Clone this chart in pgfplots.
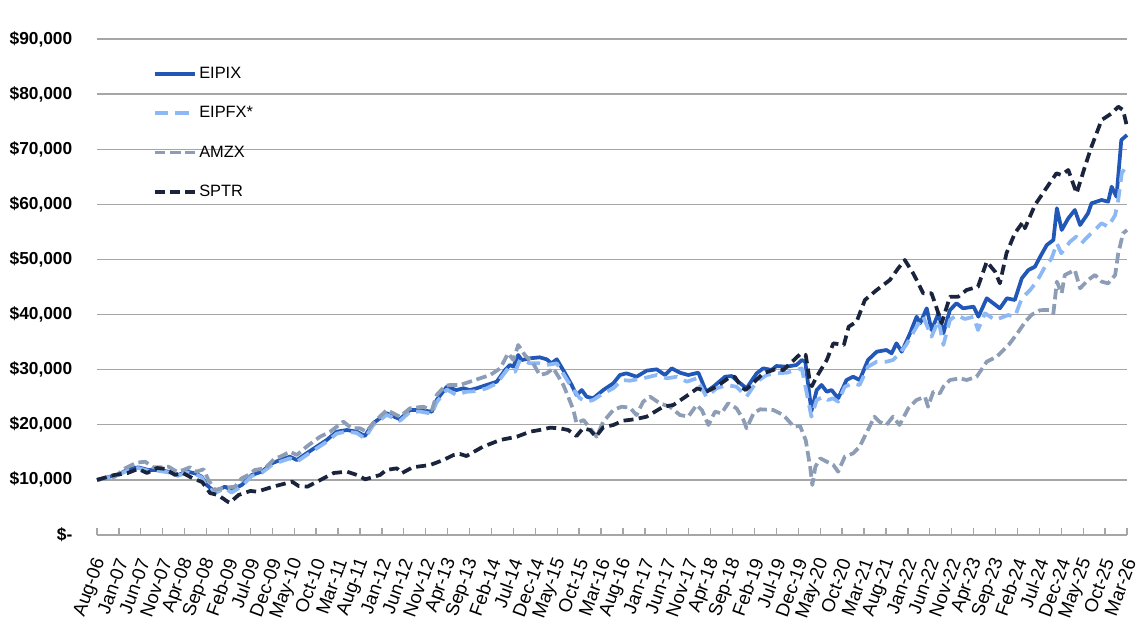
\documentclass[border=0pt]{standalone}
\usepackage{pgfplots}
\pgfplotsset{compat=1.18}
\usepackage{fontspec}
\setmainfont{Liberation Sans}
\definecolor{cEIPIX}{HTML}{2157B6}
\definecolor{cEIPFX}{HTML}{8CB9F5}
\definecolor{cAMZX}{HTML}{8C9DB5}
\definecolor{cSPTR}{HTML}{1A243D}
\definecolor{cgrid}{HTML}{A6A6A6}
\begin{document}
\begin{tikzpicture}
\useasboundingbox (-72.75pt,-65.25pt) rectangle (786.75pt,401.25pt);
\begin{axis}[
  at={(0,0)}, anchor=south west,
  scale only axis, width=772.5pt, height=372pt,
  xmin=0, xmax=235, ymin=0, ymax=90000,
  clip=false, scaled y ticks=false,
  axis x line*=bottom, axis y line*=left,
  y axis line style={draw=none},
  x axis line style={cgrid, line width=1pt},
  xtick={0,5,...,235},
  xticklabels={Aug-06,Jan-07,Jun-07,Nov-07,Apr-08,Sep-08,Feb-09,Jul-09,Dec-09,May-10,Oct-10,Mar-11,Aug-11,Jan-12,Jun-12,Nov-12,Apr-13,Sep-13,Feb-14,Jul-14,Dec-14,May-15,Oct-15,Mar-16,Aug-16,Jan-17,Jun-17,Nov-17,Apr-18,Sep-18,Feb-19,Jul-19,Dec-19,May-20,Oct-20,Mar-21,Aug-21,Jan-22,Jun-22,Nov-22,Apr-23,Sep-23,Feb-24,Jul-24,Dec-24,May-25,Oct-25,Mar-26},
  ytick={0,10000,...,90000},
  yticklabels={{\$-\hspace{4.5pt}},{\$10,000},{\$20,000},{\$30,000},{\$40,000},{\$50,000},{\$60,000},{\$70,000},{\$80,000},{\$90,000}},
  ymajorgrids, grid style={cgrid, line width=1pt},
  tick align=inside, major tick length=5pt,
  xtick style={cgrid, line width=1pt},
  ytick style={draw=none},
  xticklabel style={font=\fontsize{14}{16}\selectfont, xshift=3.75pt, yshift=-15pt, rotate=70, anchor=east},
  yticklabel style={font=\fontsize{13}{15}\selectfont\bfseries, anchor=east, xshift=-15pt},
  legend style={at={(0.054,0.949)}, anchor=north west, draw=none, fill=none,
    font=\fontsize{12.3}{14}\selectfont, row sep=15.5pt, inner sep=0pt,
    nodes={inner sep=2pt}},
  legend cell align=left,
  legend image code/.code={\draw[#1] (0pt,0pt) -- (30pt,0pt);},
  every axis plot/.append style={line width=2.8pt, line join=round},
]
\addplot[cEIPIX, solid] coordinates {
(0,10000)(3,10600)(5,11000)(7.1,11920)(9.4,12280)(11.7,11800)(14,11800)(16.3,11490)(18.5,10900)(20.5,11490)(22.4,11200)(23.9,10580)(25,9070)(26.9,7860)(29.2,8770)(30.7,8170)(33,9070)(35.3,10890)(37.6,11490)(39.9,13010)(41.8,13610)(44,14210)(45.6,13610)(47.8,14820)(50.1,16020)(52.4,17240)(54.7,18750)(57,19050)(59.3,18750)(61.1,17960)(63,20270)(66.1,22080)(69.1,21000)(71.4,22680)(73.7,22680)(76.4,22370)(77.5,24500)(79.8,26900)(82,26300)(83.6,26620)(85.1,26300)(86.6,26620)(88.9,27220)(91.2,27820)(93.1,29940)(94.2,30850)(95,30540)(96.1,32660)(96.9,31750)(98.8,32060)(101,32240)(102.6,31880)(103.7,31150)(104.9,31880)(106.8,29340)(108.3,27220)(109.4,25400)(110.6,26300)(111.7,25100)(113.2,24800)(115.5,26300)(117.8,27520)(119.3,29030)(120.8,29340)(123.1,28720)(125.4,29820)(127.7,30060)(129.6,29030)(131.1,30240)(133,29450)(134.9,29030)(137.2,29450)(139,26000)(140.6,26900)(143.3,28720)(144.8,28850)(146.3,27820)(148.2,26620)(150.5,29340)(152,30240)(153.9,29940)(155,30660)(157.3,30540)(159.6,30850)(160.8,31750)(161.6,31450)(163,22500)(164.2,26300)(165.3,27220)(166.5,26000)(167.6,26300)(169.1,24800)(171,28120)(172.5,28720)(174,28120)(175.9,31750)(177.9,33260)(180.1,33570)(181.3,32970)(182.4,34780)(183.6,33260)(185.5,36600)(187,39610)(187.8,38410)(189.3,41130)(190.4,37200)(192,40230)(193.1,36600)(194.6,40830)(196.1,42040)(197.6,41130)(200,41430)(201.1,39610)(203,42950)(206,41130)(207.6,42950)(209.4,42640)(211,46580)(212.5,48080)(214,48690)(215.2,50500)(216.7,52620)(218.2,53530)(219,59280)(220.1,55340)(221.6,57460)(223.1,58970)(224.3,56250)(226.1,58370)(226.9,60190)(229.2,60790)(230.7,60480)(231.5,63200)(232.6,61380)(233.7,71670)(235,72580)
};
\addlegendentry{EIPIX}
\addplot[cEIPFX, dash pattern=on 10pt off 5.5pt] coordinates {
(0,10000)(5,10900)(7.1,11800)(9.4,12150)(11.7,11650)(14,11650)(16.3,11350)(18.5,10750)(20.5,11350)(22.4,11050)(23.9,10450)(25,8800)(26.9,7600)(29.2,8500)(30.7,7700)(33,8850)(35.3,10700)(37.6,11300)(39.9,12700)(41.8,13300)(44,13900)(45.6,13300)(47.8,14500)(50.1,15700)(52.4,16900)(54.7,18400)(57,18800)(59.3,18500)(61.1,17500)(63,19950)(66.1,21800)(69.1,20700)(71.4,22350)(73.7,22400)(76.4,22000)(77.5,24100)(79.8,26400)(82,25400)(84.3,26000)(86.6,26100)(88.9,26620)(91.2,27520)(93.8,30240)(95.4,29630)(96.5,31750)(98.8,31150)(101,31150)(102.6,30850)(104.9,31150)(106.8,28720)(108.7,26300)(110.2,24800)(111.7,24190)(113.2,24500)(115.5,25700)(117.8,26620)(119.7,28120)(121.6,28000)(124.6,28430)(127.7,29030)(130,28430)(132.3,28720)(134.6,27820)(136.8,28430)(139,25100)(141.4,26620)(143.7,27220)(145.9,26900)(148.2,25100)(150.5,27820)(152.8,29030)(155,29340)(157.3,29450)(159.6,29940)(160.8,30240)(163,21470)(164.2,24500)(165.7,25100)(166.8,24500)(167.9,24800)(169.1,24190)(170.6,26900)(172.5,27520)(174,27220)(175.9,30540)(177.9,31450)(180.1,31450)(181.6,31750)(183.1,32970)(184.6,34480)(187,37800)(188.5,39610)(190.4,35990)(192,39010)(193.1,34480)(194.6,39010)(196.1,39920)(198,39200)(200,39600)(201,37200)(202.6,40230)(204.9,39000)(207.9,39920)(209.4,39610)(211,42950)(212.9,44460)(214.4,45970)(216.3,48690)(217.8,50200)(219,52930)(220,51110)(222,53220)(223.4,54130)(224.6,52930)(226.5,54500)(229.2,56560)(230.7,55950)(232.3,58060)(233,60790)(233.8,65630)(235,67140)
};
\addlegendentry{EIPFX*}
\addplot[cAMZX, dash pattern=on 8pt off 3.5pt] coordinates {
(0,10000)(4.1,10580)(6.4,12100)(9,13120)(11,13300)(12.8,12280)(14.8,12280)(16.3,12400)(18.2,11490)(19.7,11800)(21.2,12280)(22.7,11490)(24.3,11920)(25.4,10000)(26.9,8170)(28.4,8470)(30,8650)(31.5,8770)(33,10290)(34.5,10890)(36,11800)(38.3,12100)(40.6,13920)(41.8,14210)(44,15110)(45.6,14520)(47.8,16020)(50.9,17840)(53.2,18750)(56.2,20560)(58.1,19360)(60,19360)(61.5,18750)(63,20270)(66.1,22680)(69.1,21470)(71.4,22990)(74.4,23280)(76.4,22680)(77.5,25400)(79.4,27040)(80.5,27220)(82.8,27220)(85.1,27820)(87.4,28430)(89.7,29030)(92,30240)(93.8,32970)(95,31750)(96.1,34480)(97.6,32660)(99.5,31150)(101,29030)(102.6,29340)(104.1,30240)(105.3,28720)(106.4,27220)(107.5,25100)(108.7,22680)(109.4,20270)(111,20870)(112.5,19360)(114,17840)(115.5,20560)(117.8,22680)(119.7,23280)(121.6,23100)(123.1,21770)(124.6,24190)(126.2,25100)(128.4,23900)(130.7,23280)(133,21770)(134.9,21470)(136.8,23590)(138,22680)(139.5,19960)(141,22370)(142.5,22080)(144,23900)(145.9,22990)(147.5,20870)(148.2,19360)(149.8,22080)(151.3,22810)(154.3,22680)(156.6,21770)(159,19650)(160.4,19800)(161.7,17200)(162.7,12390)(163.2,9070)(163.9,12390)(165,13910)(166.5,13300)(168,12700)(169.1,11490)(170.6,14210)(172.5,14820)(174,16020)(175.5,18450)(177.4,21470)(178.5,20560)(180.1,19960)(181.6,21470)(183.1,19960)(185.1,22990)(187,24500)(188.9,25100)(189.6,23280)(190.8,26000)(192.3,25700)(193.1,26900)(194.6,28120)(196.9,28430)(198.4,28120)(200.7,28720)(203,31450)(205.3,32360)(208,34500)(209.9,36500)(211.8,38710)(213.3,40000)(215.2,40800)(217.5,40830)(218.2,40230)(219,45970)(220.1,43860)(220.8,47180)(223.1,48080)(224.3,44760)(226.1,46270)(227.7,47180)(229.2,45970)(230.7,45670)(232.3,47180)(233,51110)(234.1,54740)(235,55340)
};
\addlegendentry{AMZX}
\addplot[cSPTR, dash pattern=on 7.5pt off 4pt] coordinates {
(0,10000)(4,10900)(7,11250)(9.4,12000)(11.4,11250)(13.7,12150)(15.5,12000)(17.8,10900)(19.6,11250)(21.7,10350)(24,9600)(25.8,7600)(27.6,7260)(29.9,6000)(30.3,5860)(32.3,7260)(35,8000)(36.5,7860)(40.2,8770)(42.5,9250)(44.5,9680)(46,8890)(48,8770)(51,10000)(54,11250)(57,11500)(59.3,10900)(61.2,10100)(64.6,10900)(66,11800)(68.4,12100)(69.5,11200)(72,12280)(76,12700)(79,13600)(81.3,14500)(82.8,14700)(84.3,14330)(88,16000)(92,17240)(95.8,17840)(98.8,18750)(101,19050)(103.4,19470)(105.6,19360)(107.5,19050)(109.4,17960)(110.9,19360)(112.5,19050)(113.8,17840)(115.5,19540)(117.8,19960)(120,20740)(122.7,21000)(125.4,21470)(129.2,23280)(131.5,23590)(134.3,25100)(137,26620)(139,26000)(141.3,26900)(144,28430)(145.5,28720)(147,26900)(148,26300)(150,27800)(152,29330)(154.7,30060)(156.6,29940)(159,31750)(160.6,32960)(161.7,32660)(162.7,27530)(163.1,27000)(164.2,28720)(166.5,31750)(168,34780)(170.4,34480)(171.5,37800)(173.3,38700)(175.2,42640)(177.9,44460)(180.9,46270)(182.8,48390)(184.3,49900)(186.2,47490)(187,46270)(188.5,43860)(190.4,43860)(191.2,42040)(192.7,38410)(194.6,43240)(196.5,43240)(198.4,44460)(201,45060)(203,49600)(204.9,47780)(206,45670)(207.5,51110)(209.4,54740)(211.3,56850)(211.7,55650)(214,59880)(216.3,62600)(218.9,65630)(220,65320)(221.6,66230)(223.5,62000)(225.4,66840)(226.9,70460)(229.2,75300)(231.5,76510)(233,77720)(234.1,77110)(235,74090)
};
\addlegendentry{SPTR}
\end{axis}
\end{tikzpicture}
\end{document}
